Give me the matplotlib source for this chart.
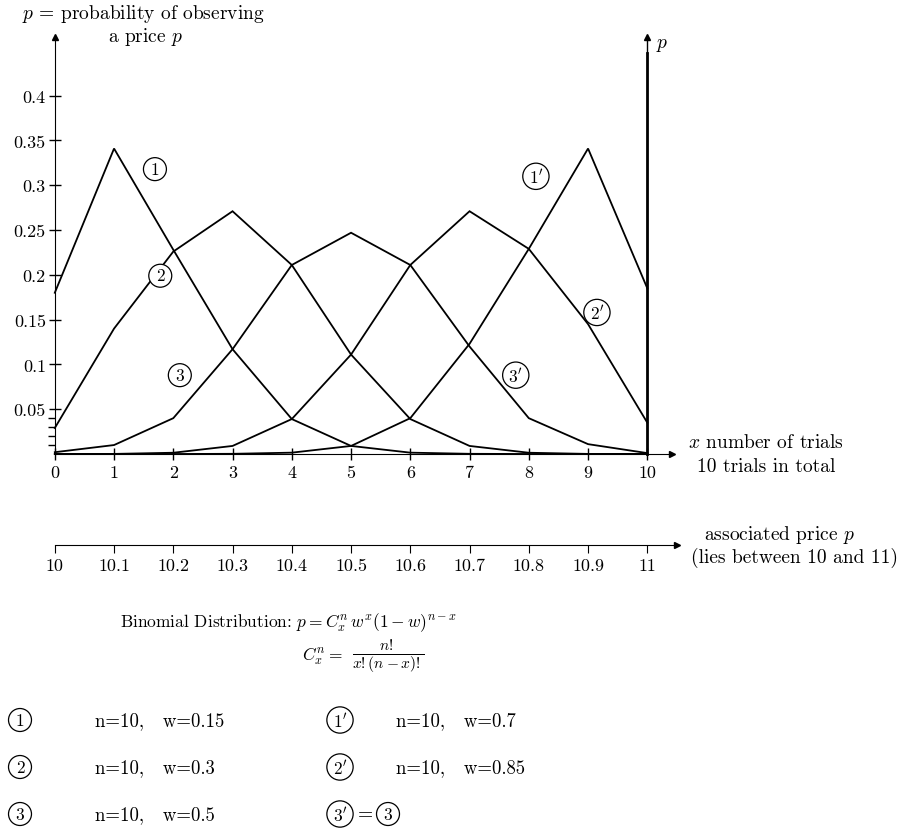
import matplotlib
matplotlib.use("Agg")
import matplotlib.pyplot as plt

plt.rcParams['font.family'] = ['cmr10', 'DejaVu Serif']
plt.rcParams['mathtext.fontset'] = 'cm'
plt.rcParams['axes.unicode_minus'] = False

# number of trials x
trials = [0, 1, 2, 3, 4, 5, 6, 7, 8, 9, 10]
# probabilities
p1 = [0.180, 0.341, 0.228, 0.117, 0.039, 0.009, 0.0015, 0.0002, 0.0, 0.0, 0.0]
p2 = [0.029, 0.140, 0.226, 0.271, 0.211, 0.111, 0.039, 0.009, 0.0014, 0.0001, 0.0]
p3 = [0.002, 0.010, 0.040, 0.117, 0.211, 0.247, 0.211, 0.120, 0.040, 0.011, 0.001]
p2b = [0.0, 0.0001, 0.0014, 0.009, 0.039, 0.111, 0.211, 0.271, 0.229, 0.145, 0.035]
p1b = [0.0, 0.0, 0.0, 0.0002, 0.0015, 0.009, 0.040, 0.123, 0.229, 0.341, 0.185]

ytick_vals = [0.05, 0.1, 0.15, 0.2, 0.25, 0.3, 0.35, 0.4]
ytick_labels = ['0.05', '0.1', '0.15', '0.2', '0.25', '0.3', '0.35', '0.4']
price_ticks = [10, 10.1, 10.2, 10.3, 10.4, 10.5, 10.6, 10.7, 10.8, 10.9, 11]
price_labels = ['10', '10.1', '10.2', '10.3', '10.4', '10.5', '10.6', '10.7', '10.8', '10.9', '11']

W, H = 904, 829
fig = plt.figure(figsize=(W / 100, H / 100), dpi=100)


def px(x, y):
    return x / W, 1 - y / H


# main axes: x=0 at px 54.8, x=10 at px 647.3; y=0 at px 455, 0.4 at px 96.7
left_px, right_px, top_px, bot_px = 40, 690, 30, 465
ax = fig.add_axes([left_px / W, 1 - bot_px / H, (right_px - left_px) / W, (bot_px - top_px) / H])
sx = 59.25
sy = 895.8
ax.set_xlim((left_px - 54.8) / sx, (right_px - 54.8) / sx)
ax.set_ylim((455 - bot_px) / sy, (455 - top_px) / sy)

for ys in [p1, p2, p3, p2b, p1b]:
    ax.plot(trials, ys, color='black', lw=1.3, solid_joinstyle='miter')

ax.spines['top'].set_visible(False)
ax.spines['right'].set_visible(False)
ax.spines['left'].set_position(('data', 0))
ax.spines['bottom'].set_position(('data', 0))
ax.spines['left'].set_bounds(0, 0.465)
ax.spines['bottom'].set_bounds(0, 10.42)
ax.plot(0, 0.465, marker='^', color='black', ms=5, clip_on=False)
ax.plot(10.42, 0, marker='>', color='black', ms=5, clip_on=False)

# second vertical axis at x = 10
ax.plot([10, 10], [0, 0.448], color='black', lw=2.0)
ax.plot([10, 10], [0.448, 0.465], color='black', lw=1.0)
ax.plot(10, 0.465, marker='^', color='black', ms=5, clip_on=False)
ax.text(10.15, 0.458, '$p$', fontsize=14, va='center', ha='left')

ax.set_xticks(trials)
ax.set_xticklabels([str(t) for t in trials], fontsize=13)
ax.set_yticks(ytick_vals)
ax.set_yticklabels(ytick_labels, fontsize=13)
ax.set_yticks([0.01, 0.02, 0.03, 0.04], minor=True)
ax.tick_params(axis='both', which='major', direction='inout', length=9, width=1.0)
ax.tick_params(axis='x', which='major', pad=3)
ax.tick_params(axis='y', which='major', pad=2)
ax.tick_params(axis='y', which='minor', direction='out', length=5, width=1.0)

# circled curve labels
circ = dict(boxstyle='circle,pad=0.22', fc='white', ec='black', lw=0.9)
curve_labels = [('1', 1.69, 0.318), ('2', 1.78, 0.199), ('3', 2.11, 0.088),
                ("1'", 8.12, 0.310), ("2'", 9.15, 0.158), ("3'", 7.78, 0.088)]
for s, lx, ly in curve_labels:
    txt = '$' + s + '$' if "'" in s else s
    ax.text(lx, ly, txt, fontsize=12.5, ha='center', va='center', bbox=circ)

# axis titles
fig.text(*px(22, 14), '$p$ = probability of observing', fontsize=14, ha='left', va='center')
fig.text(*px(146, 37), 'a price $p$', fontsize=14, ha='center', va='center')
fig.text(*px(766, 443), '$x$ number of trials', fontsize=14, ha='center', va='center')
fig.text(*px(766, 467), '10 trials in total', fontsize=14, ha='center', va='center')

# price axis
ax2 = fig.add_axes([left_px / W, 1 - 546 / H, (right_px - left_px) / W, 0.02])
ax2.set_xlim(10 + (left_px - 54.8) / sx / 10, 10 + (right_px - 54.8) / sx / 10)
ax2.set_ylim(0, 1)
ax2.patch.set_alpha(0)
for s in ['top', 'right', 'left']:
    ax2.spines[s].set_visible(False)
ax2.spines['bottom'].set_bounds(10, 11.05)
ax2.plot(11.05, 0, marker='>', color='black', ms=5, clip_on=False)
ax2.set_yticks([])
ax2.set_xticks(price_ticks)
ax2.set_xticklabels(price_labels, fontsize=13)
ax2.tick_params(axis='x', direction='out', length=6, width=0.8, pad=3)
fig.text(*px(780, 535), 'associated price $p$', fontsize=14, ha='center', va='center')
fig.text(*px(795, 558), '(lies between 10 and 11)', fontsize=14, ha='center', va='center')

# formula
fig.text(*px(120, 623), 'Binomial Distribution: $p = C_x^n\\, w^x (1-w)^{n-x}$',
         fontsize=12.5, ha='left', va='center')
fig.text(*px(302, 656), '$C_x^n =$', fontsize=12.5, ha='left', va='center')
fig.text(*px(352, 657), '$\\frac{n!}{x!(n-x)!}$', fontsize=16, ha='left', va='center')

# legend
rows = [721, 768, 815]
left_items = ['n=10,   w=0.15', 'n=10,   w=0.3', 'n=10,   w=0.5']
right_items = ['n=10,   w=0.7', 'n=10,   w=0.85']
for i, (lab, y) in enumerate(zip(['1', '2', '3'], rows)):
    fig.text(*px(20, y), lab, fontsize=12.5, ha='center', va='center', bbox=circ)
    fig.text(*px(95, y), left_items[i], fontsize=13.5, ha='left', va='center')
for i, (lab, y) in enumerate(zip(["1'", "2'"], rows[:2])):
    fig.text(*px(340, y), '$' + lab + '$', fontsize=12.5, ha='center', va='center', bbox=circ)
    fig.text(*px(396, y), right_items[i], fontsize=13.5, ha='left', va='center')
fig.text(*px(340, 815), "$3'$", fontsize=12.5, ha='center', va='center', bbox=circ)
fig.text(*px(365, 815), '=', fontsize=14, ha='center', va='center')
fig.text(*px(388, 815), '3', fontsize=12.5, ha='center', va='center', bbox=circ)

fig.savefig('out.png', dpi=100)
